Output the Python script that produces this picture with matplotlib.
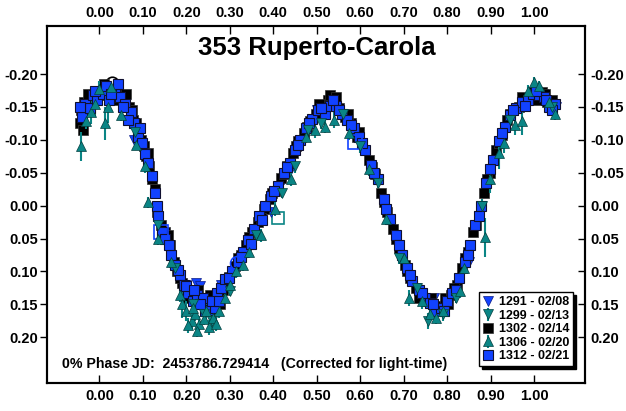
import matplotlib.pyplot as plt
from matplotlib.ticker import FormatStrFormatter

plt.rcParams['font.family'] = ['Liberation Sans', 'DejaVu Sans']
plt.rcParams['font.weight'] = 'bold'

title = "353 Ruperto-Carola"
note = "0% Phase JD:  2453786.729414   (Corrected for light-time)"

# 1291 - 02/08 (blue down triangles)
ph_1291 = [-0.035, 0.040, 0.080, 0.160, 0.182, 0.200, 0.222, 0.232, 0.280, 0.395, 0.425,
           0.440, 0.470, 0.500, 0.540, 0.650, 0.770, 0.800, 0.850, 1.020, 1.050]
mag_1291 = [-0.140, -0.168, -0.100, 0.070, 0.100, 0.120, 0.118, 0.122, 0.120, 0.010, -0.040,
            -0.055, -0.100, -0.145, -0.150, -0.010, 0.140, 0.150, 0.085, -0.170, -0.150]

# 1299 - 02/13 (teal down triangles)
ph_1299 = [0.082, 0.135, 0.175, 0.215, 0.240, 0.260, 0.300, 0.360, 0.420, 0.450, 0.480,
           0.510, 0.560, 0.600, 0.640, 0.690, 0.730, 0.755, 0.790, 0.820, 0.880, 0.945, 1.040]
mag_1299 = [-0.112, 0.030, 0.095, 0.150, 0.165, 0.175, 0.130, 0.045, -0.020, -0.060, -0.115,
            -0.125, -0.140, -0.090, -0.035, 0.080, 0.125, 0.175, 0.165, 0.140, 0.000, -0.130, -0.150]
err_1299 = [0.010, 0.008, 0.010, 0.008, 0.010, 0.012, 0.008, 0.008, 0.008, 0.010, 0.008,
            0.008, 0.010, 0.010, 0.008, 0.008, 0.010, 0.012, 0.010, 0.008, 0.010, 0.010, 0.008]

# 1302 - 02/14 (black squares)
ph_1302 = [-0.045, -0.042, -0.035, -0.028, -0.020, -0.012, 0.005, 0.018, 0.030, 0.042,
           0.055, 0.068, 0.078, 0.088, 0.095, 0.102, 0.108, 0.115, 0.122, 0.133,
           0.142, 0.150, 0.162, 0.172, 0.178, 0.190, 0.198, 0.210, 0.222, 0.235,
           0.248, 0.260, 0.272, 0.285, 0.298, 0.312, 0.325, 0.338, 0.352, 0.365,
           0.378, 0.392, 0.405, 0.418, 0.432, 0.445, 0.458, 0.470, 0.485, 0.498,
           0.512, 0.525, 0.538, 0.552, 0.565, 0.578, 0.592, 0.605, 0.620, 0.635,
           0.648, 0.662, 0.675, 0.690, 0.702, 0.715, 0.728, 0.742, 0.755, 0.768,
           0.782, 0.795, 0.808, 0.822, 0.835, 0.848, 0.860, 0.872, 0.885, 0.898,
           0.912, 0.925, 0.938, 0.952, 0.965, 0.978, 0.992, 1.005, 1.018, 1.030, 1.042,
           -0.038, -0.025, 0.010, 0.035, 0.062, 0.075, 0.085, 0.112, 0.128, 0.158,
           0.185, 0.205, 0.228, 0.242, 0.255, 0.278, 0.292, 0.318, 0.345, 0.372,
           0.398, 0.425, 0.452, 0.478, 0.505, 0.530, 0.545, 0.572, 0.598, 0.628,
           0.655, 0.682, 0.708, 0.735, 0.762, 0.775, 0.802, 0.815, 0.842, 0.866,
           0.892, 0.918, 0.945, 0.972, 0.998, 1.025]
mag_1302 = [-0.125, -0.145, -0.158, -0.150, -0.165, -0.160, -0.175, -0.168, -0.172, -0.178,
            -0.160, -0.150, -0.130, -0.112, -0.100, -0.090, -0.075, -0.060, -0.040, 0.010,
            0.030, 0.040, 0.060, 0.085, 0.100, 0.118, 0.125, 0.128, 0.140, 0.150,
            0.145, 0.150, 0.138, 0.128, 0.108, 0.092, 0.075, 0.060, 0.040, 0.025,
            0.005, -0.010, -0.022, -0.042, -0.060, -0.080, -0.098, -0.110, -0.128, -0.140,
            -0.150, -0.160, -0.158, -0.148, -0.135, -0.125, -0.105, -0.095, -0.070, -0.048,
            -0.020, 0.010, 0.035, 0.065, 0.090, 0.110, 0.125, 0.135, 0.145, 0.150,
            0.152, 0.140, 0.135, 0.120, 0.095, 0.070, 0.040, 0.015, -0.020, -0.050,
            -0.085, -0.108, -0.130, -0.145, -0.150, -0.160, -0.165, -0.160, -0.172, -0.158, -0.160,
            -0.115, -0.170, -0.185, -0.160, -0.170, -0.145, -0.125, -0.080, -0.025, 0.045,
            0.110, 0.140, 0.128, 0.158, 0.135, 0.150, 0.118, 0.080, 0.048, 0.018,
            -0.020, -0.048, -0.090, -0.120, -0.155, -0.168, -0.165, -0.140, -0.112, -0.058,
            -0.005, 0.050, 0.100, 0.140, 0.140, 0.160, 0.150, 0.125, 0.080, 0.030,
            -0.040, -0.095, -0.140, -0.165, -0.172, -0.170]

# 1306 - 02/20 (teal up triangles, with error bars)
ph_1306 = [-0.042, -0.030, -0.020, 0.000, 0.012, 0.028, 0.050, 0.085, 0.105, 0.112,
           0.135, 0.165, 0.185, 0.190, 0.200, 0.212, 0.220, 0.230, 0.240, 0.252,
           0.262, 0.275, 0.290, 0.300, 0.315, 0.330, 0.345, 0.372, 0.405, 0.440,
           0.475, 0.495, 0.520, 0.540, 0.575, 0.620, 0.660, 0.700, 0.712, 0.742,
           0.760, 0.775, 0.790, 0.830, 0.838, 0.887, 0.898, 0.918, 0.930, 0.955,
           0.972, 0.985, 1.000, 1.012, 1.035, 1.048,
           -0.010, 0.020, 0.205, 0.225, 0.245, 0.268, 0.215]
mag_1306 = [-0.090, -0.128, -0.142, -0.178, -0.125, -0.180, -0.138, -0.092, -0.060, -0.005,
            0.050, 0.085, 0.135, 0.150, 0.160, 0.175, 0.165, 0.180, 0.172, 0.185,
            0.170, 0.160, 0.140, 0.120, 0.100, 0.090, 0.070, 0.045, 0.005, -0.040,
            -0.105, -0.115, -0.120, -0.130, -0.110, -0.055, 0.020, 0.080, 0.140, 0.145,
            0.165, 0.170, 0.160, 0.130, 0.095, 0.048, -0.040, -0.080, -0.095, -0.122,
            -0.128, -0.175, -0.188, -0.182, -0.158, -0.140,
            -0.155, -0.150, 0.182, 0.190, 0.160, 0.180, 0.155]
err_1306 = [0.022, 0.012, 0.018, 0.012, 0.025, 0.008, 0.010, 0.008, 0.010, 0.008,
            0.010, 0.010, 0.012, 0.020, 0.015, 0.012, 0.010, 0.012, 0.010, 0.012,
            0.010, 0.010, 0.010, 0.010, 0.010, 0.010, 0.010, 0.010, 0.010, 0.010,
            0.010, 0.012, 0.010, 0.012, 0.010, 0.010, 0.010, 0.010, 0.012, 0.012,
            0.012, 0.010, 0.010, 0.010, 0.010, 0.030, 0.020, 0.025, 0.015, 0.015,
            0.020, 0.008, 0.008, 0.008, 0.010, 0.010,
            0.020, 0.025, 0.012, 0.010, 0.015, 0.010, 0.012]

# 1312 - 02/21 (blue squares)
ph_1312 = [-0.040, -0.032, -0.022, -0.015, -0.005, 0.008, 0.015, 0.022, 0.035, 0.048,
           0.060, 0.072, 0.080, 0.090, 0.098, 0.105, 0.112, 0.120, 0.128, 0.136,
           0.145, 0.152, 0.165, 0.175, 0.185, 0.195, 0.205, 0.215, 0.225, 0.238,
           0.242, 0.252, 0.265, 0.270, 0.280, 0.290, 0.305, 0.318, 0.330, 0.342,
           0.355, 0.368, 0.382, 0.395, 0.410, 0.425, 0.438, 0.450, 0.462, 0.475,
           0.490, 0.502, 0.518, 0.530, 0.545, 0.558, 0.570, 0.585, 0.598, 0.612,
           0.625, 0.640, 0.655, 0.668, 0.682, 0.695, 0.708, 0.720, 0.735, 0.748,
           0.760, 0.772, 0.785, 0.800, 0.812, 0.828, 0.840, 0.852, 0.865, 0.878,
           0.890, 0.905, 0.918, 0.932, 0.945, 0.958, 0.972, 0.985, 0.998, 1.010,
           1.022, 1.035, 1.048,
           -0.045, -0.010, 0.028, 0.042, 0.055, 0.067, 0.094, 0.132, 0.160, 0.180,
           0.200, 0.218, 0.232, 0.258, 0.275, 0.298, 0.325, 0.348, 0.375, 0.402,
           0.432, 0.458, 0.482, 0.510, 0.538, 0.552, 0.578, 0.605, 0.632, 0.660,
           0.688, 0.715, 0.742, 0.768, 0.792, 0.820, 0.848, 0.872, 0.898, 0.925,
           0.952, 0.978, 1.005, 1.028, 1.042]
mag_1312 = [-0.135, -0.155, -0.148, -0.168, -0.160, -0.170, -0.182, -0.160, -0.175, -0.165,
            -0.155, -0.142, -0.125, -0.105, -0.095, -0.078, -0.065, -0.045, -0.020, 0.015,
            0.040, 0.050, 0.075, 0.090, 0.105, 0.120, 0.132, 0.145, 0.135, 0.140,
            0.160, 0.158, 0.155, 0.132, 0.125, 0.112, 0.100, 0.085, 0.070, 0.052,
            0.035, 0.015, 0.000, -0.015, -0.030, -0.050, -0.065, -0.085, -0.100, -0.118,
            -0.132, -0.145, -0.140, -0.152, -0.152, -0.140, -0.130, -0.118, -0.105, -0.085,
            -0.062, -0.040, -0.010, 0.020, 0.045, 0.075, 0.095, 0.115, 0.128, 0.140,
            0.148, 0.160, 0.155, 0.145, 0.132, 0.110, 0.085, 0.060, 0.030, 0.000,
            -0.035, -0.070, -0.098, -0.120, -0.138, -0.148, -0.158, -0.160, -0.170, -0.168,
            -0.165, -0.150, -0.155,
            -0.150, -0.175, -0.170, -0.185, -0.150, -0.130, -0.118, 0.000, 0.060, 0.098,
            0.122, 0.128, 0.150, 0.145, 0.145, 0.110, 0.078, 0.058, 0.022, -0.022,
            -0.058, -0.092, -0.125, -0.148, -0.160, -0.145, -0.122, -0.095, -0.050, 0.005,
            0.060, 0.105, 0.132, 0.150, 0.160, 0.128, 0.075, 0.015, -0.055, -0.110,
            -0.145, -0.152, -0.175, -0.160, -0.145]

# a few open (hollow) points
ph_open_blue_sq = [0.141, 0.587]
mag_open_blue_sq = [0.040, -0.097]
ph_open_blue_ci = [0.316]
mag_open_blue_ci = [0.087]
ph_open_teal_sq = [0.412]
mag_open_teal_sq = [0.018]
ph_open_black_ci = [0.030]
mag_open_black_ci = [-0.186]

x_ticks = [0.0, 0.1, 0.2, 0.3, 0.4, 0.5, 0.6, 0.7, 0.8, 0.9, 1.0]
y_ticks = [-0.20, -0.15, -0.10, -0.05, 0.00, 0.05, 0.10, 0.15, 0.20]
xlim = (-0.121, 1.117)
ylim = (0.2695, -0.273)

blue = '#1242ff'
teal = '#0a8585'
ms = 7.5

fig = plt.figure(figsize=(6.26, 4.11), dpi=100)
ax = fig.add_axes([0.0746, 0.0681, 0.8600, 0.8686])

ax.plot(ph_open_black_ci, mag_open_black_ci, 'o', mfc='none', mec='black', mew=1.2, ms=9)
ax.plot(ph_open_teal_sq, mag_open_teal_sq, 's', mfc='none', mec=teal, mew=1.2, ms=9)
h1, = ax.plot(ph_1291, mag_1291, 'v', color=blue, mec='#0a1a80', mew=0.5, ms=ms, label='1291 - 02/08')
h2 = ax.errorbar(ph_1299, mag_1299, yerr=err_1299, fmt='v', color=teal, ecolor=teal, elinewidth=1.5,
                 mec='#033f3f', mew=0.5, ms=ms, label='1299 - 02/13')
h3, = ax.plot(ph_1302, mag_1302, 's', color='black', mec='#333333', mew=0.5, ms=ms, label='1302 - 02/14')
h4 = ax.errorbar(ph_1306, mag_1306, yerr=err_1306, fmt='^', color=teal, ecolor=teal, elinewidth=1.5,
                 mec='#033f3f', mew=0.5, ms=ms, label='1306 - 02/20')
h5, = ax.plot(ph_1312, mag_1312, 's', color=blue, mec='#101030', mew=0.8, ms=ms, label='1312 - 02/21')
ax.plot(ph_open_blue_sq, mag_open_blue_sq, 's', mfc='none', mec=blue, mew=1.2, ms=9.5)
ax.plot(ph_open_blue_ci, mag_open_blue_ci, 'o', mfc='none', mec=blue, mew=1.2, ms=10)

ax.set_xlim(*xlim)
ax.set_ylim(*ylim)

ax.set_xticks(x_ticks)
ax.set_yticks(y_ticks)
ax.xaxis.set_major_formatter(FormatStrFormatter('%.2f'))
ax.yaxis.set_major_formatter(FormatStrFormatter('%.2f'))
ax.tick_params(axis='x', direction='in', top=True, bottom=True,
               labeltop=True, labelbottom=True, length=6, width=1, pad=4, labelsize=10.5)
ax.tick_params(axis='y', direction='out', left=True, right=False, labelleft=True,
               labelright=False, length=5, width=1, pad=1, labelsize=10.5)

# right axis: ticks point inward
ax2 = ax.twinx()
ax2.set_ylim(*ylim)
ax2.set_yticks(y_ticks)
ax2.yaxis.set_major_formatter(FormatStrFormatter('%.2f'))
ax2.tick_params(axis='y', direction='in', length=5, width=1, pad=4, labelsize=10.5)

for a in (ax, ax2):
    for s in a.spines.values():
        s.set_linewidth(1.5)

ax.text(0.501, 0.938, title, transform=ax.transAxes, ha='center', va='center',
        fontsize=18.5, fontweight='bold')
ax.text(0.028, 0.053, note, transform=ax.transAxes, ha='left', va='center',
        fontsize=10.2, fontweight='bold')

leg = ax2.legend([h1, h2, h3, h4, h5],
                 ['1291 - 02/08', '1299 - 02/13', '1302 - 02/14', '1306 - 02/20', '1312 - 02/21'],
                 loc='lower right', bbox_to_anchor=(0.978, 0.048), borderaxespad=0,
                 fancybox=False, framealpha=1, edgecolor='black', fontsize=9,
                 handlelength=0.9, handletextpad=0.4, labelspacing=0.12, borderpad=0.3,
                 markerscale=0.9,
                 shadow={'facecolor': 'black', 'edgecolor': 'black', 'alpha': 1})
leg.get_frame().set_linewidth(1.0)

fig.savefig('out.png', dpi=100)
